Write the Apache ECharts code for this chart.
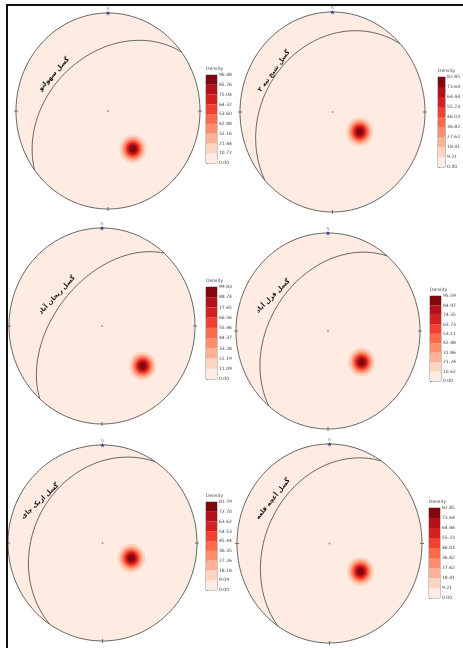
<!DOCTYPE html>
<html><head><meta charset="utf-8">
<script src="https://cdn.jsdelivr.net/npm/echarts@6/dist/echarts.min.js"></script>
<style>html,body{margin:0;padding:0;background:#fff}#c{width:463px;height:648px}</style>
</head><body><div id="c"></div>
<script>
// ---- data ----
const faultNames = ['گسل سهولنو', 'گسل شیخ تپه ۲', 'گسل ریحان آباد', 'گسل قزل آباد', 'گسل ازبک چای', 'گسل آغچه قلعه'];
const planeStrike = [233, 227, 222, 220, 214, 214];   // great circle (right-hand rule)
const planeDip = [40, 30, 50, 40, 29, 34];
const poleTrend = [145, 124, 133, 131, 117, 130];     // density maximum
const polePlunge = [51, 61, 40, 50, 62, 54];
const ticks1 = ['0.00','10.72','21.44','32.16','42.88','53.60','64.32','75.04','85.76','96.48'];
const ticks2 = ['0.00','9.21','18.41','27.62','36.82','46.03','55.23','64.44','73.64','82.85'];
const ticks3 = ['0.00','11.09','22.19','33.28','44.37','55.46','66.56','77.65','88.74','99.83'];
const ticks4 = ['0.00','10.62','21.24','31.86','42.48','53.11','63.73','74.35','84.97','95.59'];
const ticks5 = ['0.00','9.09','18.18','27.26','36.35','45.44','54.53','63.62','72.70','81.79'];
const ticks6 = ['0.00','9.21','18.41','27.62','36.82','46.03','55.23','64.44','73.64','82.85'];
const tickSets = [ticks1, ticks2, ticks3, ticks4, ticks5, ticks6];

// ---- layout / style ----
const bandColors = ['#feece3','#fdd4c2','#fcb297','#fc8e6e','#fb6a4a','#f0402f','#d32020','#b21218','#83070f'];
const netBoxes = [[16,13,184,196],[240,12,185,200],[9,228,186,196],[236,233,184,196],[8,445,189,196],[237,444,185,199]];
const barBoxes = [[206,75,11,88],[438,77,11,90],[206,287,11,92],[430,296,11,85],[206,502,11,88],[429,508,11,90]];
const labelPos = [[54,74,48],[274,71,54],[57,295,47],[273,296,45],[40,501,43],[273,499,51]];
const kernelSigma = 0.07;

const D = Math.PI / 180;
// equal-area (Schmidt) lower-hemisphere projection of a line
function projectLine(trend, plunge) {
  const r = Math.SQRT2 * Math.sin((90 - plunge) / 2 * D);
  return [r * Math.sin(trend * D), r * Math.cos(trend * D)];
}
function greatCircle(strike, dip) {
  const pts = [];
  for (let k = 0; k <= 180; k += 2) {
    const pl = Math.atan(Math.tan(dip * D) * Math.sin(k * D)) / D;
    pts.push(projectLine(strike + k, pl));
  }
  return pts;
}
function ellipsePts(api, cx, cy, r, n) {
  const pts = [];
  for (let k = 0; k < n; k++) {
    const a = 2 * Math.PI * k / n;
    pts.push(api.coord([cx + r * Math.cos(a), cy + r * Math.sin(a)]));
  }
  return pts;
}

const grid = [], xAxis = [], yAxis = [], series = [], title = [], graphic = [];
for (let i = 0; i < 6; i++) {
  const nb = netBoxes[i], bb = barBoxes[i], ticks = tickSets[i];
  grid.push({left: nb[0], top: nb[1], width: nb[2], height: nb[3], show: false});
  grid.push({left: bb[0], top: bb[1], width: bb[2], height: bb[3], show: true,
    borderColor: '#777', borderWidth: 0.8, backgroundColor: 'transparent'});
  xAxis.push({type: 'value', gridIndex: 2*i, min: -1, max: 1, show: false});
  yAxis.push({type: 'value', gridIndex: 2*i, min: -1, max: 1, show: false});
  xAxis.push({type: 'value', gridIndex: 2*i+1, min: 0, max: 1, show: false});
  yAxis.push({type: 'value', gridIndex: 2*i+1, min: 0, max: ticks.length - 1, interval: 1,
    position: 'right', axisLine: {show: false}, splitLine: {show: false},
    axisTick: {show: true, length: 1.5, lineStyle: {color: '#666', width: 0.6}},
    axisLabel: {formatter: v => ticks[v], fontSize: 4.5, color: '#444', margin: 2, fontFamily: 'DejaVu Sans'}});

  // primitive circle
  series.push({type: 'custom', xAxisIndex: 2*i, yAxisIndex: 2*i, z: 1, silent: true, data: [[0, 0]],
    renderItem: (params, api) => {
      const c = api.coord([0, 0]);
      const e = api.coord([1, 0]), w = api.coord([-1, 0]), s = api.coord([0, -1]);
      const st = {stroke: '#555', lineWidth: 0.8};
      return {type: 'group', children: [
        {type: 'polygon', shape: {points: ellipsePts(api, 0, 0, 1, 180)}, style: {fill: bandColors[0], stroke: '#555', lineWidth: 0.9}},
        {type: 'line', shape: {x1: e[0]-2, y1: e[1], x2: e[0]+2, y2: e[1]}, style: st},
        {type: 'line', shape: {x1: w[0]-2, y1: w[1], x2: w[0]+2, y2: w[1]}, style: st},
        {type: 'line', shape: {x1: s[0], y1: s[1]-2, x2: s[0], y2: s[1]+2}, style: st},
        {type: 'circle', shape: {cx: c[0], cy: c[1], r: 1}, style: {fill: '#999'}}
      ]};
    }});
  // density contours around the pole maximum
  const levels = ticks.map(Number);
  series.push({type: 'custom', xAxisIndex: 2*i, yAxisIndex: 2*i, z: 2, silent: true,
    data: [projectLine(poleTrend[i], polePlunge[i])],
    renderItem: (params, api) => {
      const px = api.value(0), py = api.value(1);
      const mx = levels[levels.length - 1];
      const children = [];
      for (let j = 1; j < levels.length - 1; j++) {
        const r = kernelSigma * Math.sqrt(2 * Math.log(mx / levels[j]));
        children.push({type: 'polygon', shape: {points: ellipsePts(api, px, py, r, 48)}, style: {fill: bandColors[j]}});
      }
      return {type: 'group', children};
    }});
  // great circle
  series.push({type: 'line', xAxisIndex: 2*i, yAxisIndex: 2*i, z: 3, silent: true, showSymbol: false,
    data: greatCircle(planeStrike[i], planeDip[i]), lineStyle: {color: '#555', width: 0.9}});
  // north marker
  series.push({type: 'scatter', xAxisIndex: 2*i, yAxisIndex: 2*i, z: 4, silent: true, data: [[0, 1]],
    symbol: 'path://M50,0 L61,35 L98,35 L68,57 L79,91 L50,70 L21,91 L32,57 L2,35 L39,35 Z',
    symbolSize: 5, itemStyle: {color: '#23237a'},
    label: {show: true, formatter: 'N', position: 'top', distance: 0, fontSize: 4, color: '#666'}});
  // colour bar
  series.push({type: 'custom', xAxisIndex: 2*i+1, yAxisIndex: 2*i+1, z: 1, silent: true,
    data: ticks.slice(0, -1).map((t, j) => [0, j]),
    renderItem: (params, api) => {
      const j = api.value(1);
      const p0 = api.coord([0, j]), p1 = api.coord([1, j + 1]);
      return {type: 'rect', shape: {x: p0[0], y: p1[1], width: p1[0] - p0[0], height: p0[1] - p1[1]},
        style: {fill: bandColors[j]}};
    }});
  title.push({text: 'Density', left: bb[0], top: bb[1] - 9, padding: 0,
    textStyle: {fontSize: 4.5, fontWeight: 'normal', color: '#444', fontFamily: 'DejaVu Sans'}});
  const lp = labelPos[i];
  graphic.push({type: 'text', x: lp[0], y: lp[1], rotation: lp[2] * D, z: 10,
    style: {text: faultNames[i], font: 'bold 6.5px "DejaVu Sans"', fill: '#111',
      align: 'center', verticalAlign: 'middle', textAlign: 'center', textVerticalAlign: 'middle'}});
}
graphic.push({type: 'line', shape: {x1: 6, y1: 5, x2: 463, y2: 5}, style: {stroke: '#111', lineWidth: 2}, z: 10});
graphic.push({type: 'line', shape: {x1: 7, y1: 4, x2: 7, y2: 648}, style: {stroke: '#111', lineWidth: 2}, z: 10});

const chart = echarts.init(document.getElementById('c'), null, {renderer: 'canvas'});
chart.setOption({animation: false, backgroundColor: '#fff', title, grid, xAxis, yAxis, series, graphic});
</script></body></html>
